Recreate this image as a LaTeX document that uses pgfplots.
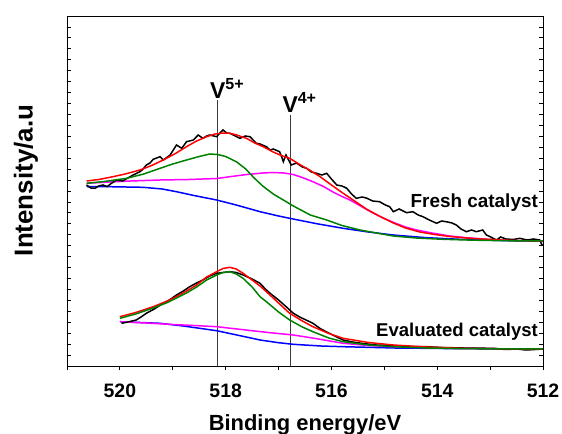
\documentclass[border=0pt]{standalone}
\usepackage{fontspec}
\setmainfont{Liberation Sans}
\usepackage{pgfplots}
\pgfplotsset{compat=1.18}

\definecolor{fitgreen}{RGB}{0,128,0}
\definecolor{fitred}{RGB}{255,0,0}
\definecolor{fitblue}{RGB}{0,0,255}
\definecolor{fitmag}{RGB}{255,0,255}
\definecolor{vline}{RGB}{60,60,60}

\begin{document}
\begin{tikzpicture}
\begin{axis}[
  at={(0,0)}, anchor=south west,
  scale only axis, width=476bp, height=350bp,
  x dir=reverse,
  xmin=512, xmax=521, ymin=0, ymax=350,
  xtick={520,518,516,514,512},
  minor xtick={521,519,517,515,513},
  xtick pos=bottom,
  ytick={0,10.9375,...,350}, yticklabels={},
  ytick pos=both,
  tick align=inside,
  major tick length=4bp, minor tick length=4bp,
  x tick style={yshift=-4bp, black, line width=0.8pt},
  y tick style={black, line width=0.8pt},
  axis line style={line width=0.9pt},
  /pgf/number format/assume math mode=true,
  xticklabel style={font=\fontsize{19.5}{21}\selectfont\bfseries, anchor=base, yshift=-31bp},
  xlabel={Binding energy/eV},
  ylabel={Intensity/a.u},
  xlabel style={font=\fontsize{22}{24}\selectfont\bfseries, at={(axis description cs:0.5,0)}, anchor=base, yshift=-64bp},
  ylabel style={font=\fontsize{26}{28}\selectfont\bfseries, at={(axis description cs:0,0.53)}, anchor=center, yshift=41bp},
  every axis plot/.append style={line width=1.5pt, no markers},
]

% reference lines
\addplot[vline, line width=0.8pt] coordinates {(518.15,0) (518.15,266)};
\addplot[vline, line width=0.8pt] coordinates {(516.78,0) (516.78,251)};

% ---- fresh catalyst ----
\addplot[fitblue] coordinates {
(520.63,179.5)(520.20,179.3)(519.56,178.7)(519.20,177)(518.93,174.3)(518.60,170.5)
(518.17,166)(517.80,161)(517.35,154.3)(517.00,150)(516.79,147.7)(516.30,142.5)
(515.78,137.7)(515.30,134)(514.83,131)(514.20,128.3)(513.57,126.7)(512.80,125.5)(512.00,124.7)};

\addplot[fitmag] coordinates {
(520.63,182.7)(520.20,184)(519.80,185)(519.24,186)(518.70,186.5)(518.17,187.5)
(517.92,189.3)(517.60,191.5)(517.30,193)(517.10,193.5)(516.90,193)(516.72,191.5)
(516.55,188.5)(516.35,184.3)(516.15,179.5)(515.97,174)(515.80,169.5)(515.65,166)
(515.45,160)(515.25,154)(515.02,148)(514.80,143)(514.60,139)(514.39,136)
(514.10,133)(513.76,130)(513.45,128.3)(513.14,127)(512.80,126)(512.40,125.3)(512.00,125)};

\addplot[black] coordinates {
(520.63,181)(520.55,178)(520.47,177.7)(520.40,180)(520.32,181)(520.24,179.5)
(520.16,182.7)(520.06,186)(519.95,185)(519.85,188)(519.75,191)(519.62,194.3)
(519.56,197)(519.50,201)(519.43,203)(519.37,206.7)(519.24,209.3)(519.18,206)
(519.10,209)(519.05,211)(518.99,216)(518.93,221)(518.83,217.7)(518.74,224.3)
(518.61,226)(518.52,231)(518.43,227.7)(518.36,230)(518.30,231)(518.17,229.3)
(518.11,233)(518.05,236)(517.98,233)(517.92,232.7)(517.82,230)(517.73,227.7)
(517.63,230)(517.54,229.3)(517.48,226)(517.42,222.7)(517.35,222)(517.23,219.3)
(517.16,216)(517.10,217)(516.98,214.3)(516.94,209)(516.91,204.3)(516.86,211)
(516.80,205)(516.76,201)(516.66,203)(516.55,199)(516.47,197.7)(516.38,194)
(516.28,192.7)(516.18,191)(516.09,192.7)(516.00,187)(515.90,181)(515.80,180)
(515.71,177.7)(515.62,172)(515.53,167.7)(515.42,169)(515.34,168)(515.22,165)
(515.09,164.3)(514.98,161)(514.90,159.3)(514.83,154.3)(514.72,157)(514.58,153.3)
(514.46,154.3)(514.36,151)(514.27,149.3)(514.15,146)(514.01,142.7)(513.92,145)
(513.83,144.3)(513.72,143)(513.64,141)(513.55,137)(513.45,134.3)(513.35,136)
(513.26,134.3)(513.14,136)(513.07,131)(513.00,129.3)(512.88,126)(512.80,129)
(512.70,127)(512.56,126.5)(512.44,127.7)(512.30,126)(512.18,127)(512.06,126)
(512.03,122)(512.00,121)};

\addplot[fitred] coordinates {
(520.63,185)(520.40,186.5)(520.13,189.3)(519.90,192)(519.62,196)(519.40,200.5)
(519.18,206)(518.95,212.5)(518.74,219.3)(518.55,225)(518.36,229.3)(518.20,232)
(518.05,233)(517.92,232.7)(517.79,231)(517.60,227.5)(517.45,223)(517.29,219.3)
(517.10,214)(516.95,210.5)(516.79,207.7)(516.60,201.5)(516.40,195.5)(516.22,189.5)
(516.00,181)(515.80,173.5)(515.59,166)(515.34,157)(515.10,150)(514.83,143)
(514.60,138)(514.33,134)(514.05,131.5)(513.76,129.5)(513.45,128)(513.14,127)
(512.80,126)(512.40,125.3)(512.00,125)};

\addplot[fitgreen] coordinates {
(520.63,182.7)(520.30,184.5)(519.87,187.7)(519.55,192)(519.24,197.7)(519.00,202)
(518.74,206)(518.50,209.5)(518.30,212)(518.15,211.5)(518.00,209.5)(517.79,204)
(517.62,197)(517.48,189)(517.30,180)(517.10,172)(516.91,166)(516.72,160)
(516.40,151)(516.09,146)(515.80,140.5)(515.46,136)(515.15,133)(514.83,130)
(514.40,128)(513.89,126.7)(513.30,125.8)(512.60,125.2)(512.00,125)};

% ---- evaluated catalyst ----
\addplot[fitblue] coordinates {
(520.00,44.3)(519.24,42.7)(518.80,40)(518.17,35.3)(517.70,30)(517.35,26)
(517.00,23.3)(516.72,21.7)(516.20,20)(515.78,19.3)(514.80,18)(513.50,17.3)(512.00,17)};

\addplot[fitmag] coordinates {
(520.00,44.3)(519.50,43)(519.00,41.5)(518.60,40.5)(518.17,39.3)(517.70,36.5)
(517.20,33.5)(516.72,31)(516.30,27.5)(515.78,22.7)(515.30,20.5)(514.83,19.3)
(514.00,18)(513.00,17.3)(512.00,17)};

\addplot[black] coordinates {
(519.97,42.7)(519.85,44)(519.69,46)(519.60,49)(519.50,52.7)(519.35,57)
(519.18,62.7)(519.05,66.5)(518.93,71)(518.80,75)(518.68,79.3)(518.55,83)
(518.43,86)(518.30,90)(518.17,92.7)(518.05,93.5)(517.92,94.3)(517.80,93.5)
(517.67,91)(517.50,87)(517.35,82.7)(517.25,77)(517.16,72.7)(517.00,66)
(516.85,59)(516.72,52.7)(516.60,49)(516.50,46.5)(516.35,42.7)(516.20,37)
(516.05,33)(515.90,29)(515.78,26)(515.60,24)(515.40,22.5)(515.15,21)
(514.90,20.5)(514.60,19.5)(514.20,19.3)(513.90,18.5)(513.50,18)(513.20,17.8)
(512.95,17.7)(512.70,16.5)(512.50,17)(512.32,16)(512.15,16.5)(512.00,17)};

\addplot[fitred] coordinates {
(520.00,49.3)(519.70,53.5)(519.37,59.3)(519.10,65)(518.93,69.3)(518.74,75)
(518.55,81)(518.36,89)(518.17,94.3)(518.05,97.5)(517.92,98.7)(517.80,97)
(517.67,92.7)(517.50,86)(517.35,80)(517.23,74.3)(517.00,63)(516.79,52.7)
(516.55,45)(516.35,39.3)(516.05,32.5)(515.78,27.7)(515.30,23.5)(514.83,21)
(514.20,19)(513.57,17.7)(512.80,17.2)(512.00,17)};

\addplot[fitgreen] coordinates {
(520.00,47.7)(519.70,52)(519.37,58)(519.10,63.5)(518.93,68)(518.74,73)
(518.55,79)(518.36,86)(518.17,91)(518.05,93.5)(517.92,94.3)(517.80,92)
(517.67,87.7)(517.50,79)(517.35,69.3)(517.23,64.3)(517.00,54)(516.79,46)
(516.55,39)(516.35,34.3)(516.05,28)(515.78,24.3)(515.30,21)(514.83,19.3)
(514.20,18)(513.50,17.3)(512.00,17)};

% labels
\node[font=\fontsize{23}{24}\selectfont\bfseries, anchor=base] at (axis cs:518.15,268) {V\rlap{\textsuperscript{5+}}};
\node[font=\fontsize{23}{24}\selectfont\bfseries, anchor=base] at (axis cs:516.78,254) {V\rlap{\textsuperscript{4+}}};
\node[font=\fontsize{19}{20}\selectfont\bfseries, anchor=base east] at (axis cs:512.03,159) {Fresh catalyst};
\node[font=\fontsize{18.6}{20}\selectfont\bfseries, anchor=base east] at (axis cs:512.03,30) {Evaluated catalyst};
\end{axis}
\pgfresetboundingbox
\path[use as bounding box] (-67bp,-68bp) rectangle (495bp,366bp);
\end{tikzpicture}
\end{document}
